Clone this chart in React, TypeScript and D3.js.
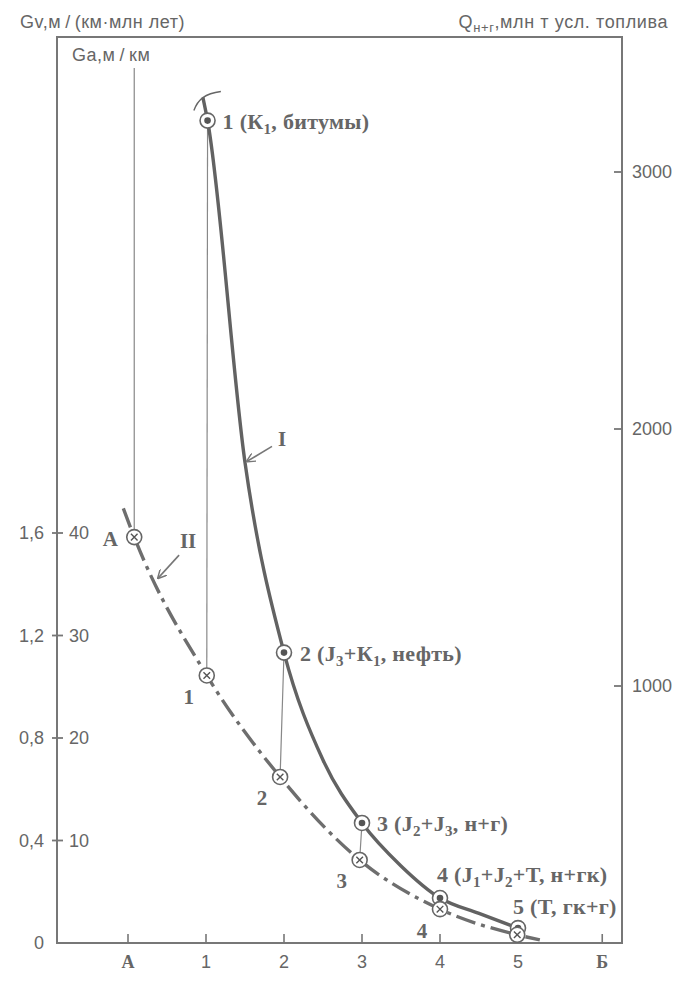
import { useEffect, useRef } from "react";
import * as d3 from "d3";

const WIDTH = 676;
const HEIGHT = 983;
const FRAME = { left: 57, right: 622, top: 37, bottom: 943 };

// bottom axis: stage positions
const xTickPos = [0, 1, 2, 3, 4, 5, 6.08];
const xTickLabels = ["А", "1", "2", "3", "4", "5", "Б"];

// left axis: Gv and Ga share the ticks
const gvTicks = [0, 0.4, 0.8, 1.2, 1.6];
const gaTicks = [10, 20, 30, 40];
// right axis
const qTicks = [1000, 2000, 3000];

// curve I (Q, solid)
const curveIPos = [0.96, 1.02, 1.5, 2, 2.5, 3, 3.5, 4, 4.5, 5];
const curveIQ = [3290, 3200, 1870, 1130, 712, 467, 300, 175, 115, 58];
// marked points on curve I
const pointIPos = [1.02, 2, 3, 4, 5];
const pointIQ = [3200, 1130, 467, 175, 58];
const pointILabels = [
  "1 (К_1, битумы)",
  "2 (J_3+К_1, нефть)",
  "3 (J_2+J_3, н+г)",
  "4 (J_1+J_2+T, н+гк)",
  "5 (T, гк+г)",
];

// curve II (Ga, dash-dot)
const curveIIPos = [-0.06, 0.08, 1.01, 1.95, 2.97, 4, 4.99, 5.28];
const curveIIGa = [42.4, 39.6, 26.1, 16.2, 8.1, 3.3, 0.8, 0.3];
const pointIIPos = [0.08, 1.01, 1.95, 2.97, 4, 4.99];
const pointIIGa = [39.6, 26.1, 16.2, 8.1, 3.3, 0.8];
const pointIILabels = ["А", "1", "2", "3", "4", ""];

const TEXT = "#666";
const LINE = "#777";
const SANS = "'Liberation Sans', Arial, sans-serif";
const SERIF = "'Liberation Serif', 'Times New Roman', serif";

const LABEL_I_OFFSET = [
  [15, 8],
  [16, 8],
  [15, 8],
  [-3, -16],
  [-5, -14],
];

const App = () => {
  const svgRef = useRef(null);

  useEffect(() => {
    const svg = d3.select(svgRef.current);
    svg.selectAll("*").remove();

    const x = d3.scaleLinear().domain([0, 5]).range([128, 518]);
    const yGa = d3.scaleLinear().domain([0, 40]).range([FRAME.bottom, 533]);
    const yGv = d3.scaleLinear().domain([0, 1.6]).range([FRAME.bottom, 533]);
    const yQ = d3.scaleLinear().domain([0, 3000]).range([FRAME.bottom, 172]);

    // arrow marker
    const defs = svg.append("defs");
    defs
      .append("marker")
      .attr("id", "arrow")
      .attr("viewBox", "0 0 10 10")
      .attr("refX", 9)
      .attr("refY", 5)
      .attr("markerWidth", 9)
      .attr("markerHeight", 9)
      .attr("markerUnits", "userSpaceOnUse")
      .attr("orient", "auto")
      .append("path")
      .attr("d", "M0,0 L10,5 L0,10")
      .attr("fill", "none")
      .attr("stroke", LINE)
      .attr("stroke-width", 1.6);

    // frame
    svg
      .append("path")
      .attr(
        "d",
        `M${FRAME.left},${FRAME.top}H${FRAME.right}V${FRAME.bottom}H${FRAME.left}Z`
      )
      .attr("fill", "none")
      .attr("stroke", LINE)
      .attr("stroke-width", 2);

    // headers
    svg
      .append("text")
      .attr("x", 20)
      .attr("y", 28)
      .attr("font-family", SANS)
      .attr("font-size", 18)
      .attr("letter-spacing", 0.5)
      .attr("fill", TEXT)
      .text("Gv,м\u2009/\u2009(км·млн лет)");
    svg
      .append("text")
      .attr("x", 72)
      .attr("y", 61)
      .attr("font-family", SANS)
      .attr("font-size", 18)
      .attr("letter-spacing", 0.5)
      .attr("fill", TEXT)
      .text("Ga,м\u2009/\u2009км");
    const qHead = svg
      .append("text")
      .attr("x", 668)
      .attr("y", 28)
      .attr("text-anchor", "end")
      .attr("font-family", SANS)
      .attr("font-size", 18)
      .attr("letter-spacing", 0.6)
      .attr("fill", TEXT);
    qHead.append("tspan").text("Q");
    qHead.append("tspan").attr("font-size", 13).attr("dy", 4).text("н+г");
    qHead.append("tspan").attr("dy", -4).text(",млн т усл.  топлива");

    // left ticks (cross the axis)
    const left = svg.append("g");
    left
      .selectAll("line")
      .data(gvTicks.slice(1))
      .join("line")
      .attr("x1", FRAME.left - 5)
      .attr("x2", FRAME.left + 6)
      .attr("y1", (d) => yGv(d))
      .attr("y2", (d) => yGv(d))
      .attr("stroke", LINE)
      .attr("stroke-width", 1.8);
    left
      .selectAll("text.gv")
      .data(gvTicks)
      .join("text")
      .attr("class", "gv")
      .attr("x", 44)
      .attr("y", (d) => yGv(d))
      .attr("dy", "0.36em")
      .attr("text-anchor", "end")
      .attr("font-family", SANS)
      .attr("font-size", 18)
      .attr("fill", TEXT)
      .text((d) => (d === 0 ? "0" : d.toFixed(1).replace(".", ",")));
    left
      .selectAll("text.ga")
      .data(gaTicks)
      .join("text")
      .attr("class", "ga")
      .attr("x", 69)
      .attr("y", (d) => yGa(d))
      .attr("dy", "0.36em")
      .attr("font-family", SANS)
      .attr("font-size", 18)
      .attr("fill", TEXT)
      .text((d) => d);

    // right ticks
    const right = svg.append("g");
    right
      .selectAll("line")
      .data(qTicks)
      .join("line")
      .attr("x1", FRAME.right - 8)
      .attr("x2", FRAME.right)
      .attr("y1", (d) => yQ(d))
      .attr("y2", (d) => yQ(d))
      .attr("stroke", LINE)
      .attr("stroke-width", 1.8);
    right
      .selectAll("text")
      .data(qTicks)
      .join("text")
      .attr("x", 632)
      .attr("y", (d) => yQ(d))
      .attr("dy", "0.36em")
      .attr("font-family", SANS)
      .attr("font-size", 18)
      .attr("fill", TEXT)
      .text((d) => d);

    // bottom ticks
    const bottom = svg.append("g");
    bottom
      .selectAll("line")
      .data(xTickPos)
      .join("line")
      .attr("x1", (d) => x(d))
      .attr("x2", (d) => x(d))
      .attr("y1", FRAME.bottom - 9)
      .attr("y2", FRAME.bottom)
      .attr("stroke", LINE)
      .attr("stroke-width", 1.6);
    bottom
      .selectAll("text")
      .data(xTickPos)
      .join("text")
      .attr("x", (d) => x(d))
      .attr("y", 968)
      .attr("text-anchor", "middle")
      .attr("font-family", (d, i) => (/\d/.test(xTickLabels[i]) ? SANS : SERIF))
      .attr("font-weight", (d, i) => (/\d/.test(xTickLabels[i]) ? 400 : 700))
      .attr("font-size", 18)
      .attr("fill", TEXT)
      .text((d, i) => xTickLabels[i]);

    // thin connectors
    const conn = svg.append("g").attr("stroke", "#888").attr("stroke-width", 1.2);
    conn
      .append("line")
      .attr("x1", x(pointIIPos[0]))
      .attr("x2", x(pointIIPos[0]))
      .attr("y1", 68)
      .attr("y2", yGa(pointIIGa[0]));
    [0, 1, 2].forEach((i) => {
      conn
        .append("line")
        .attr("x1", x(pointIPos[i]))
        .attr("y1", yQ(pointIQ[i]))
        .attr("x2", x(pointIIPos[i + 1]))
        .attr("y2", yGa(pointIIGa[i + 1]));
    });

    // curve II
    const lineII = d3
      .line<number>()
      .x((d, i) => x(curveIIPos[i]))
      .y((d) => yGa(d))
      .curve(d3.curveMonotoneX);
    svg
      .append("path")
      .attr("d", lineII(curveIIGa))
      .attr("fill", "none")
      .attr("stroke", "#6e6e6e")
      .attr("stroke-width", 3.4)
      .attr("stroke-dasharray", "20,6,4,6");

    // curve I
    const lineI = d3
      .line<number>()
      .x((d, i) => x(curveIPos[i]))
      .y((d) => yQ(d))
      .curve(d3.curveMonotoneX);
    svg
      .append("path")
      .attr("d", lineI(curveIQ))
      .attr("fill", "none")
      .attr("stroke", "#626262")
      .attr("stroke-width", 3.4);

    // break hook at the top of curve I
    const tx = x(curveIPos[0]);
    const ty = yQ(curveIQ[0]);
    svg
      .append("path")
      .attr(
        "d",
        `M${tx - 9},${ty + 13} C${tx - 5},${ty + 2} ${tx + 2},${ty - 4} ${tx + 18},${ty - 6}`
      )
      .attr("fill", "none")
      .attr("stroke", "#666")
      .attr("stroke-width", 1.4);

    // arrows I and II
    const arrows = [
      { tx: x(1.5), ty: yQ(1870), dx: 27, dy: -16, label: "I", lx: 37, ly: -24 },
      { tx: x(0.36), ty: yGa(35.5), dx: 23, dy: -24, label: "II", lx: 32, ly: -38 },
    ];
    arrows.forEach((a) => {
      svg
        .append("line")
        .attr("x1", a.tx + a.dx)
        .attr("y1", a.ty + a.dy)
        .attr("x2", a.tx + 2)
        .attr("y2", a.ty - 1)
        .attr("stroke", LINE)
        .attr("stroke-width", 1.6)
        .attr("marker-end", "url(#arrow)");
      svg
        .append("text")
        .attr("x", a.tx + a.lx)
        .attr("y", a.ty + a.ly)
        .attr("dy", "0.35em")
        .attr("text-anchor", "middle")
        .attr("font-family", SERIF)
        .attr("font-weight", 700)
        .attr("font-size", 21)
        .attr("fill", TEXT)
        .text(a.label);
    });

    // markers on curve I
    const mI = svg
      .append("g")
      .selectAll("g")
      .data(pointIQ)
      .join("g")
      .attr("transform", (d, i) => `translate(${x(pointIPos[i])},${yQ(d)})`);
    mI.append("circle")
      .attr("r", 7.5)
      .attr("fill", "white")
      .attr("stroke", "#666")
      .attr("stroke-width", 1.6);
    mI.append("circle").attr("r", 3.3).attr("fill", "#555");

    // labels on curve I
    pointILabels.forEach((lab, i) => {
      const t = svg
        .append("text")
        .attr("x", x(pointIPos[i]) + LABEL_I_OFFSET[i][0])
        .attr("y", yQ(pointIQ[i]) + LABEL_I_OFFSET[i][1])
        .attr("font-family", SERIF)
        .attr("font-weight", 700)
        .attr("font-size", 22)
        .attr("letter-spacing", 0.3)
        .attr("fill", TEXT);
      const parts = lab.split(/_(\d)/);
      parts.forEach((p, k) => {
        if (p === "") return;
        if (k % 2 === 1) {
          t.append("tspan").attr("font-size", 15).attr("dy", 5).text(p);
        } else {
          const s = t.append("tspan").text(p);
          if (k > 0) s.attr("dy", -5);
        }
      });
    });

    // markers on curve II
    const mII = svg
      .append("g")
      .selectAll("g")
      .data(pointIIGa)
      .join("g")
      .attr("transform", (d, i) => `translate(${x(pointIIPos[i])},${yGa(d)})`);
    mII
      .append("circle")
      .attr("r", 7.5)
      .attr("fill", "white")
      .attr("stroke", "#666")
      .attr("stroke-width", 1.6);
    mII
      .append("path")
      .attr("d", "M-3.3,-3.3L3.3,3.3M-3.3,3.3L3.3,-3.3")
      .attr("stroke", "#555")
      .attr("stroke-width", 1.4);

    // labels on curve II
    svg
      .append("g")
      .selectAll("text")
      .data(pointIILabels)
      .join("text")
      .attr("x", (d, i) => x(pointIIPos[i]) + (i === 0 ? -24 : -18))
      .attr("y", (d, i) => yGa(pointIIGa[i]) + (i === 0 ? 2 : 21))
      .attr("dy", "0.35em")
      .attr("text-anchor", "middle")
      .attr("font-family", SERIF)
      .attr("font-weight", 700)
      .attr("font-size", 21)
      .attr("fill", TEXT)
      .text((d) => d);
  }, []);

  return (
    <div style={{ position: "absolute", left: 0, top: 0 }}>
      <svg
        ref={svgRef}
        width={WIDTH}
        height={HEIGHT}
        style={{ display: "block", background: "white" }}
      ></svg>
    </div>
  );
};

export default App;
